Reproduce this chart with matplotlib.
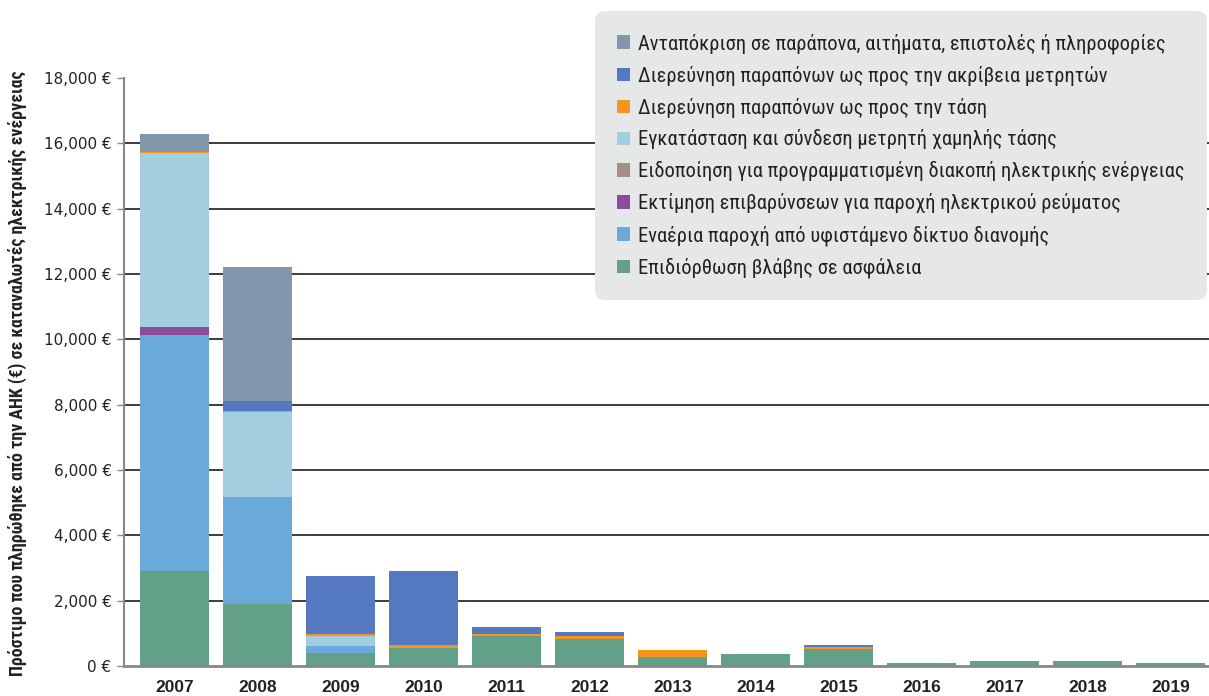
import matplotlib
matplotlib.use("Agg")
import matplotlib.pyplot as plt
from matplotlib import font_manager
import numpy as np

years = ["2007", "2008", "2009", "2010", "2011", "2012", "2013",
         "2014", "2015", "2016", "2017", "2018", "2019"]

# stacked from bottom to top
labels = [
    "Επιδιόρθωση βλάβης σε ασφάλεια",
    "Εναέρια παροχή από υφιστάμενο δίκτυο διανομής",
    "Εκτίμηση επιβαρύνσεων για παροχή ηλεκτρικού ρεύματος",
    "Ειδοποίηση για προγραμματισμένη διακοπή ηλεκτρικής ενέργειας",
    "Εγκατάσταση και σύνδεση μετρητή χαμηλής τάσης",
    "Διερεύνηση παραπόνων ως προς την τάση",
    "Διερεύνηση παραπόνων ως προς την ακρίβεια μετρητών",
    "Ανταπόκριση σε παράπονα, αιτήματα, επιστολές ή πληροφορίες",
]
colors = ["#62A087", "#6AAADB", "#8B4C9E", "#A89080",
          "#A2CEE0", "#F7941D", "#5479C0", "#8198AC"]

fault_repair    = [2900, 1890, 390, 540, 910, 815, 265, 360, 510, 80, 145, 145, 85]
overhead_supply = [7230, 3270, 214, 0, 0, 0, 0, 0, 0, 0, 0, 0, 0]
charge_estimate = [250, 0, 0, 0, 0, 0, 0, 0, 0, 0, 0, 0, 0]
outage_notice   = [0, 0, 0, 0, 0, 0, 0, 0, 0, 0, 0, 0, 0]
meter_install   = [5320, 2620, 306, 0, 0, 0, 0, 0, 0, 0, 0, 0, 0]
voltage_compl   = [50, 30, 60, 90, 60, 95, 215, 0, 60, 0, 0, 0, 0]
meter_accuracy  = [0, 306, 1800, 2265, 210, 120, 20, 0, 60, 0, 0, 0, 0]
responses       = [530, 4110, 0, 0, 0, 0, 0, 0, 0, 0, 0, 0, 0]

series = [fault_repair, overhead_supply, charge_estimate, outage_notice,
          meter_install, voltage_compl, meter_accuracy, responses]

yticks = [0, 2000, 4000, 6000, 8000, 10000, 12000, 14000, 16000, 18000]
ylabel = "Πρόστιμο που πληρώθηκε από την ΑΗΚ (€) σε καταναλωτές ηλεκτρικής ενέργειας"


def has_font(name):
    try:
        font_manager.findfont(font_manager.FontProperties(family=name),
                              fallback_to_default=False)
        return True
    except Exception:
        return False


narrow = "Roboto"
for cand in ["Roboto Condensed", "Liberation Sans Narrow", "Open Sans Condensed"]:
    if has_font(cand):
        narrow = cand
        break
plt.rcParams["font.family"] = ["DejaVu Sans"]

fig = plt.figure(figsize=(12.09, 6.96), dpi=100)
ax = fig.add_axes([124 / 1209, 30 / 696, 1 - 124 / 1209, 588 / 696])

x = np.arange(len(years))
bottom = np.zeros(len(years))
handles = []
for vals, lab, col in zip(series, labels, colors):
    v = np.array(vals, dtype=float)
    h = ax.bar(x, v, width=0.83, bottom=bottom, color=col, label=lab,
               linewidth=0, zorder=3)
    handles.append(h)
    bottom += v

ax.set_ylim(0, 18000)
ax.set_xlim(-0.608, 12.46)
ax.set_yticks(yticks)
ax.set_yticklabels([f"{v:,.0f} €" for v in yticks], fontsize=11,
                   color="#222222")
ax.set_xticks(x)
ax.set_xticklabels(years, fontsize=12.5, fontweight="bold",
                   family="Liberation Sans", color="#222222")
ax.tick_params(axis="x", length=0, pad=10)
ax.tick_params(axis="y", length=5, width=1, color="#888888", pad=4)

for gy in yticks[1:-1]:
    ax.axhline(gy, color="#2e2e2e", linewidth=1.3, zorder=1)

for s in ["top", "right"]:
    ax.spines[s].set_visible(False)
ax.spines["left"].set_color("#888888")
ax.spines["left"].set_linewidth(1.5)
ax.spines["bottom"].set_color("#888888")
ax.spines["bottom"].set_linewidth(2)
ax.spines["bottom"].set_zorder(4)

fig.text(17 / 1209, 1 - 373 / 696, ylabel, rotation=90, ha="center",
         va="center", fontsize=12.9, fontweight="bold", family=narrow,
         color="#222222")

leg = fig.legend(handles[::-1], labels[::-1], loc="upper right",
                 bbox_to_anchor=(1207 / 1209, 1 - 11 / 696),
                 prop={"family": narrow, "size": 14.8},
                 frameon=True, fancybox=True, facecolor="#E6E7E7",
                 edgecolor="none", framealpha=1.0,
                 handlelength=0.63, handleheight=0.63, handletextpad=0.42,
                 labelspacing=0.58, borderpad=1.08, borderaxespad=0)
leg.get_frame().set_boxstyle("round,pad=0,rounding_size=0.5")
for t in leg.get_texts():
    t.set_color("#222222")

fig.savefig("out.png", dpi=100)
